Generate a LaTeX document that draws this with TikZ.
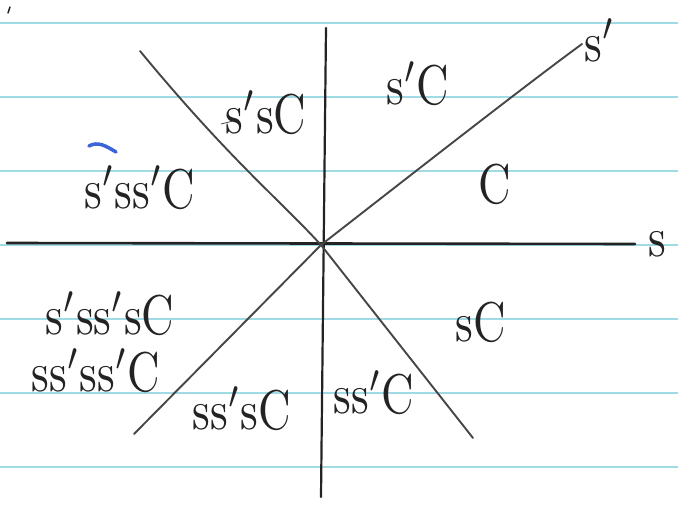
\documentclass[tikz,border=0pt]{standalone}
\usepackage{graphicx}
\definecolor{ruleblue}{RGB}{160,218,228}
\definecolor{ink}{RGB}{35,35,35}
\definecolor{pen}{RGB}{70,70,70}
\definecolor{bluepen}{RGB}{60,100,215}
\newcommand\hw[1]{\scalebox{4.5}[5.6]{$\mathrm{#1}$}}
\begin{document}
\begin{tikzpicture}[x=1pt,y=-1pt,
  rule/.style={draw=ruleblue, line width=1.3pt},
  axis/.style={draw=ink, line width=2.2pt, line cap=round},
  diag/.style={draw=pen, line width=1.9pt, line cap=round},
  lbl/.style={inner sep=0pt, text=ink}]
\useasboundingbox (0,0) rectangle (678,508);
\fill[white] (0,0) rectangle (678,508);
% ruled paper
\foreach \yy in {23,97,171,245,319,393,467}
  \draw[rule] (0,\yy) -- (678,\yy);
% coordinates
\coordinate (O) at (321,245);
\coordinate (hl) at (7,243);
\coordinate (hr) at (635,244);
\coordinate (vt) at (326,28);
\coordinate (vb) at (321,497);
\coordinate (nw) at (140,51);
\coordinate (se) at (473,438);
\coordinate (sw) at (134,434);
\coordinate (ne) at (582,44);
% lines
\draw[axis, line width=2.6pt] (hl) -- (hr);
\draw[axis] (vt) -- (vb);
\draw[diag] (nw) .. controls (230,160) and (280,200) .. (O) -- (se);
\draw[diag] (sw) -- (O);
\draw[diag] (O) .. controls (430,160) and (530,82) .. (ne);
% axis labels
\node[lbl] (ls) at (657,244) {\hw{s}};
\node[lbl] (lsp) at (600,40) {\hw{s'}};
% region labels
\node[lbl] (r1) at (418,83) {\hw{s'C}};
\node[lbl] (r2) at (495,184) {\hw{C}};
\node[lbl] (r3) at (266,112) {\hw{s'sC}};
\node[lbl] (r4) at (140,187) {\hw{s'ss'C}};
\node[lbl] (r5) at (110,313) {\hw{s'ss'sC}};
\node[lbl] (r6) at (96,370) {\hw{ss'ss'C}};
\node[lbl] (r7) at (242,408) {\hw{ss'sC}};
\node[lbl] (r8) at (374,392) {\hw{ss'C}};
\node[lbl] (r9) at (481,322) {\hw{sC}};
% stray marks
\draw[bluepen, line width=3.5pt, line cap=round] (89,146) .. controls (98,141) and (106,146) .. (116,152);
\draw[pen, line width=0.8pt] (221,124) -- (233,121);
\draw[ink, line width=1.5pt, line cap=round] (8,13) -- (10,7);
\end{tikzpicture}
\end{document}
